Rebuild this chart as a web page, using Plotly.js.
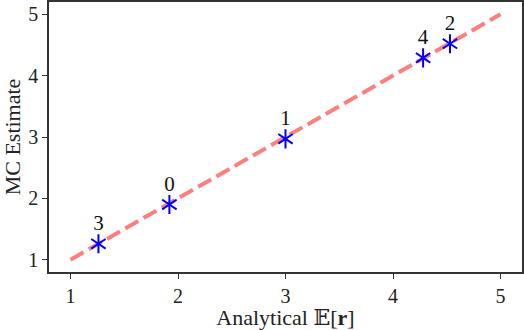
<!DOCTYPE html>
<html>
<head>
<meta charset="utf-8">
<script src="https://cdn.plot.ly/plotly-3.0.1.min.js"></script>
</head>
<body style="margin:0">
<div id="plot" style="width:524px;height:330px"></div>
<script>
// tocke: analiticka vrijednost vs MC procjena, oznaka = indeks
const analiticki = [1.92, 3.0, 4.53, 1.26, 4.28];
const mcProcjena = [1.9, 2.97, 4.52, 1.26, 4.29];
const oznake = ["0", "1", "2", "3", "4"];
const dijagonalaX = [1, 5];
const dijagonalaY = [1, 5];
const tickovi = [1, 2, 3, 4, 5];

const font = "Liberation Serif, DejaVu Serif, serif";

const data = [
  {
    x: dijagonalaX,
    y: dijagonalaY,
    type: "scatter",
    mode: "lines",
    line: { color: "rgba(255,0,0,0.5)", width: 4, dash: "15px,6px" },
    hoverinfo: "skip",
  },
  // sest krakova zvjezdice = y-up + y-down
  {
    x: analiticki,
    y: mcProcjena,
    type: "scatter",
    mode: "markers+text",
    text: oznake,
    textposition: "top center",
    textfont: { family: font, size: 21, color: "#111" },
    marker: {
      symbol: "y-up-open",
      size: 12,
      color: "blue",
      line: { color: "blue", width: 2 },
    },
  },
  {
    x: analiticki,
    y: mcProcjena,
    type: "scatter",
    mode: "markers",
    marker: {
      symbol: "y-down-open",
      size: 12,
      color: "blue",
      line: { color: "blue", width: 2 },
    },
  },
];

const osa = {
  range: [0.8, 5.2],
  tickvals: tickovi,
  ticks: "outside",
  ticklen: 5,
  tickwidth: 1.2,
  tickcolor: "#333",
  showline: true,
  linecolor: "#333",
  linewidth: 1.5,
  mirror: true,
  showgrid: false,
  zeroline: false,
  tickfont: { family: font, size: 20, color: "#222" },
};

const layout = {
  width: 524,
  height: 330,
  margin: { l: 49, r: 2, t: 2, b: 58 },
  showlegend: false,
  paper_bgcolor: "white",
  plot_bgcolor: "white",
  xaxis: Object.assign({}, osa, {
    title: {
      text: "Analytical 𝔼[<b>r</b>]",
      font: { family: font, size: 22, color: "#222" },
      standoff: 5,
    },
  }),
  yaxis: Object.assign({}, osa, {
    title: {
      text: "MC Estimate",
      font: { family: font, size: 22, color: "#222" },
      standoff: 5,
    },
  }),
};

Plotly.newPlot("plot", data, layout, { displayModeBar: false });
</script>
</body>
</html>
